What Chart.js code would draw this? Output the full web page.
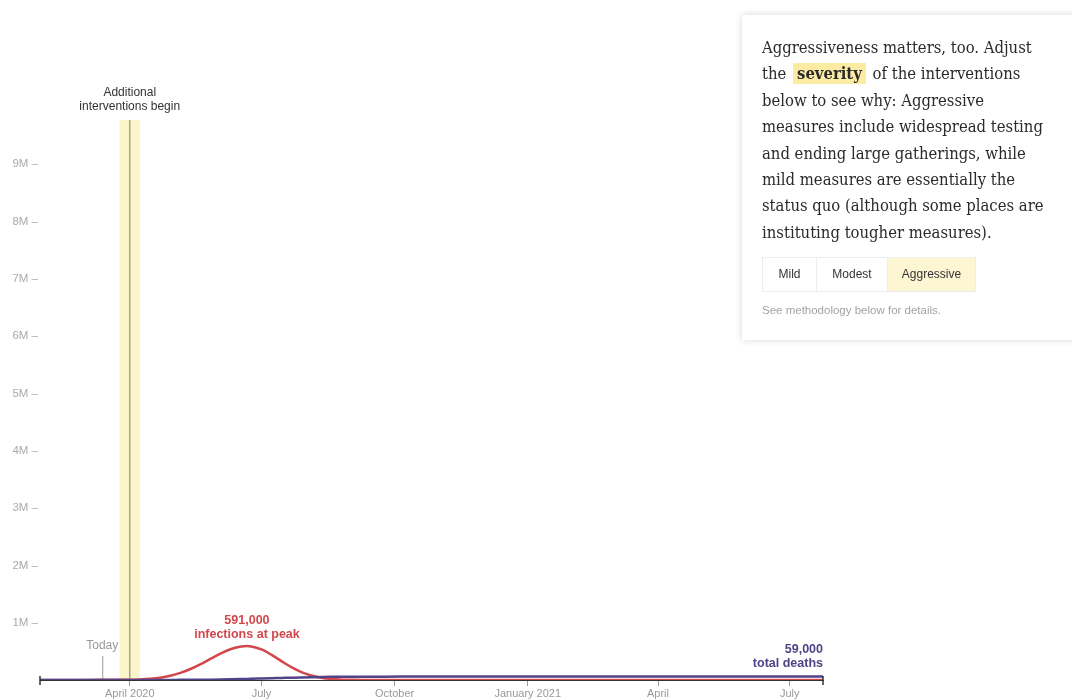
<!DOCTYPE html>
<html><head><meta charset="utf-8">
<script src="https://cdn.jsdelivr.net/npm/chart.js@4/dist/chart.umd.min.js"></script>
<style>
html,body{margin:0;padding:0;background:#fff;width:1072px;height:700px;overflow:hidden;}
#c{position:absolute;left:0;top:0;}
#panel{position:absolute;left:742px;top:15px;width:345px;height:325px;background:#fff;box-shadow:0 0 7px rgba(0,0,0,0.16);}
#txt{position:absolute;left:20px;top:20px;font-family:"DejaVu Serif Condensed","DejaVu Serif",serif;font-size:16.5px;line-height:26.4px;color:#2a2a2a;white-space:nowrap;}
.hl{background:#fbeba3;font-weight:bold;padding:1px 4px;margin:0 2px;}
#btns{position:absolute;left:20px;top:242px;display:flex;font-family:"Liberation Sans",Arial,sans-serif;font-size:12px;color:#333;}
#btns div{height:35px;line-height:33px;text-align:center;border:1px solid #ececec;box-sizing:border-box;margin-left:-1px;}
#note{position:absolute;left:20px;top:289px;font-family:"Liberation Sans",Arial,sans-serif;font-size:11.5px;color:#a3a3a3;}
</style></head>
<body>
<canvas id="c" width="1072" height="700"></canvas>
<div id="panel">
<div id="txt">Aggressiveness matters, too. Adjust<br>the <span class="hl">severity</span> of the interventions<br>below to see why: Aggressive<br>measures include widespread testing<br>and ending large gatherings, while<br>mild measures are essentially the<br>status quo (although some places are<br>instituting tougher measures).</div>
<div id="btns"><div style="width:55px;margin-left:0">Mild</div><div style="width:72px">Modest</div><div style="width:89px;background:#fdf6d2">Aggressive</div></div>
<div id="note">See methodology below for details.</div>
</div>
<script>
// ---- data ----
const dates = ['2020-01-30','2020-02-20','2020-03-12','2020-04-01','2020-04-08','2020-04-15','2020-04-22','2020-04-29','2020-05-06','2020-05-13','2020-05-20','2020-05-27','2020-06-03','2020-06-10','2020-06-17','2020-06-21','2020-06-24','2020-07-01','2020-07-08','2020-07-15','2020-07-22','2020-07-29','2020-08-05','2020-08-12','2020-08-19','2020-08-26','2020-09-02','2020-09-09','2020-09-23','2020-10-21','2021-01-01','2021-04-01','2021-07-24'];
const infections = [0,500,3000,4600,10000,21000,41000,74000,124000,192000,277000,372000,465000,540000,584000,591000,586000,533000,438000,326000,219000,133000,73000,36000,16000,6500,2500,1000,600,400,300,200,100];
const deaths = [0,0,50,200,400,700,1000,1500,2200,3200,4600,6500,9000,12500,16500,19000,21000,26000,31000,36000,41000,45500,49500,52500,55000,56700,57800,58400,58800,59000,59000,59000,59000];
const xRangeDates = ['2020-01-30','2021-07-24'];
const tickDates = ['2020-04-01','2020-07-01','2020-10-01','2021-01-01','2021-04-01','2021-07-01'];
const tickLabels = ['April 2020','July','October','January 2021','April','July'];
const yTicks = [1000000,2000000,3000000,4000000,5000000,6000000,7000000,8000000,9000000];
const yMax = 9770000;
const interventionDate = '2020-04-01';
const bandDates = ['2020-03-25','2020-04-08'];
const todayDate = '2020-03-13';
const peakDate = '2020-06-21';
const peakLabel = ['591,000','infections at peak'];
const deathLabel = ['59,000','total deaths'];

const ORIGIN = Date.parse('2020-04-01');
const day = s => (Date.parse(s) - ORIGIN) / 86400000;
const RED = '#d2474c', PURPLE = '#4f4487';
const SANS = '"Liberation Sans", Arial, sans-serif';

const overlay = {
  id: 'overlay',
  beforeDatasetsDraw(chart) {
    const {ctx, chartArea: a, scales: {x}} = chart;
    ctx.save();
    const b0 = x.getPixelForValue(day(bandDates[0])), b1 = x.getPixelForValue(day(bandDates[1]));
    ctx.fillStyle = '#fcf4cb';
    ctx.fillRect(b0, a.top, b1 - b0, a.bottom - a.top);
    const xi = x.getPixelForValue(day(interventionDate));
    ctx.strokeStyle = '#a8a38c'; ctx.lineWidth = 1.5;
    ctx.beginPath(); ctx.moveTo(xi, a.top); ctx.lineTo(xi, a.bottom); ctx.stroke();
    const xt = x.getPixelForValue(day(todayDate));
    ctx.strokeStyle = '#9a9a9a'; ctx.lineWidth = 1;
    ctx.beginPath(); ctx.moveTo(xt + 0.5, a.bottom - 24); ctx.lineTo(xt + 0.5, a.bottom); ctx.stroke();
    ctx.restore();
  },
  afterDraw(chart) {
    const {ctx, chartArea: a, scales: {x, y}} = chart;
    ctx.save();
    ctx.textBaseline = 'middle';
    ctx.textAlign = 'center';
    const xi = x.getPixelForValue(day(interventionDate));
    ctx.fillStyle = '#333'; ctx.font = '12px ' + SANS;
    ctx.fillText('Additional', xi, a.top - 27);
    ctx.fillText('interventions begin', xi, a.top - 13);
    const xt = x.getPixelForValue(day(todayDate));
    ctx.fillStyle = '#999'; ctx.font = '12px ' + SANS;
    ctx.fillText('Today', xt, a.bottom - 34);
    const xp = x.getPixelForValue(day(peakDate));
    const yp = y.getPixelForValue(infections[dates.indexOf(peakDate)]);
    ctx.fillStyle = RED; ctx.font = 'bold 12.5px ' + SANS;
    ctx.fillText(peakLabel[0], xp, yp - 26);
    ctx.fillText(peakLabel[1], xp, yp - 12);
    ctx.textAlign = 'right';
    ctx.fillStyle = PURPLE;
    const yd = y.getPixelForValue(deaths[deaths.length - 1]);
    ctx.fillText(deathLabel[0], a.right, yd - 27);
    ctx.fillText(deathLabel[1], a.right, yd - 13);
    // end ticks of the axis
    ctx.strokeStyle = '#333'; ctx.lineWidth = 1.5;
    [a.left, a.right].forEach(px => { ctx.beginPath(); ctx.moveTo(px, a.bottom - 4); ctx.lineTo(px, a.bottom + 5); ctx.stroke(); });
    ctx.restore();
  }
};

new Chart(document.getElementById('c'), {
  type: 'line',
  data: {
    datasets: [
      {label: 'Infections', data: dates.map((d, i) => ({x: day(d), y: infections[i]})), borderColor: RED, borderWidth: 2.5, order: 1, cubicInterpolationMode: 'monotone'},
      {label: 'Total deaths', data: dates.map((d, i) => ({x: day(d), y: deaths[i]})), borderColor: PURPLE, borderWidth: 2.5, order: 0, cubicInterpolationMode: 'monotone'}
    ]
  },
  options: {
    responsive: false, animation: false, devicePixelRatio: 1,
    layout: {padding: {left: 0, right: 249, top: 120, bottom: 0}},
    elements: {point: {radius: 0}},
    plugins: {legend: {display: false}, tooltip: {enabled: false}},
    scales: {
      x: {
        type: 'linear', min: day(xRangeDates[0]), max: day(xRangeDates[1]),
        afterFit: s => { s.height = 20; },
        afterBuildTicks: s => { s.ticks = tickDates.map(d => ({value: day(d)})); },
        ticks: {callback: v => tickLabels[tickDates.map(day).indexOf(v)], color: '#999', font: {size: 11, family: SANS}, maxRotation: 0, autoSkip: false, padding: 1},
        grid: {drawOnChartArea: false, drawTicks: true, tickLength: 6, color: '#999'},
        border: {display: true, color: '#333', width: 1}
      },
      y: {
        min: 0, max: yMax,
        afterFit: s => { s.width = 40; },
        afterBuildTicks: s => { s.ticks = yTicks.map(v => ({value: v})); },
        ticks: {callback: v => (v / 1e6) + 'M \u2013', color: '#aaa', font: {size: 11.5, family: SANS}, padding: 2},
        grid: {display: false, drawTicks: false},
        border: {display: false}
      }
    }
  },
  plugins: [overlay]
});
</script>
</body></html>
